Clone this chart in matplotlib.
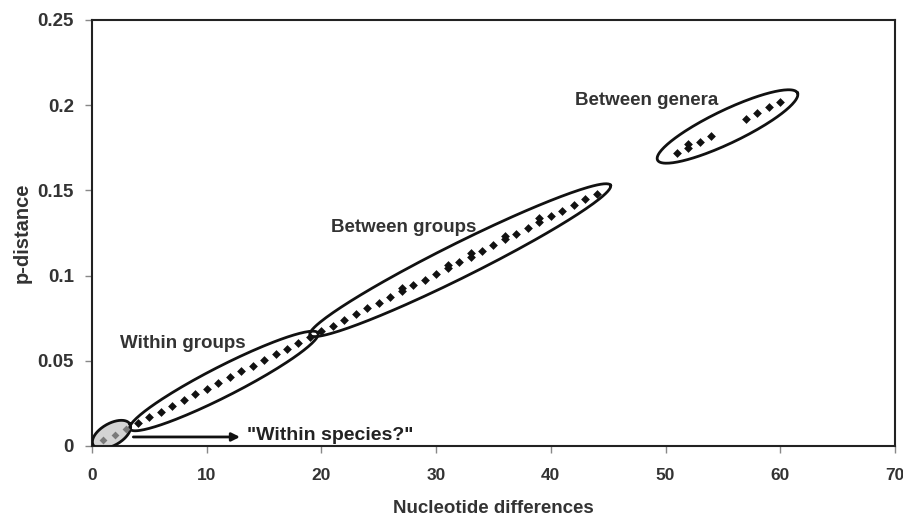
import numpy as np
import matplotlib
matplotlib.use("Agg")
import matplotlib.pyplot as plt

# Data: nucleotide differences vs p-distance
species_n = [1, 2, 3]
species_p = [0.0034, 0.0067, 0.0101]

groups_n = [4, 5, 6, 7, 8, 9, 10, 11, 12, 13, 14, 15, 16, 17, 18, 19]
groups_p = [0.0135, 0.0168, 0.0202, 0.0236, 0.0269, 0.0303, 0.0337, 0.0370,
            0.0404, 0.0438, 0.0471, 0.0505, 0.0539, 0.0572, 0.0606, 0.0640]

between_n = [20, 21, 22, 23, 24, 25, 26, 27, 27, 28, 29, 30, 31, 31, 32, 33, 33,
             34, 35, 36, 36, 37, 38, 39, 39, 40, 41, 42, 43, 44]
between_p = [0.0673, 0.0707, 0.0741, 0.0774, 0.0808, 0.0842, 0.0875, 0.0909, 0.0925,
             0.0943, 0.0976, 0.1010, 0.1044, 0.1062, 0.1077, 0.1111, 0.1130,
             0.1145, 0.1178, 0.1212, 0.1232, 0.1246, 0.1279, 0.1313, 0.1336,
             0.1347, 0.1380, 0.1414, 0.1448, 0.1481]

genera_n = [51, 52, 52, 53, 54, 57, 58, 59, 60]
genera_p = [0.1717, 0.1751, 0.1775, 0.1785, 0.1818, 0.1919, 0.1953, 0.1987, 0.2020]

# Ellipses: (x0, y0), (x1, y1) ends of major axis in data units, minor axis in px
ellipses = [
    ((0.1, 0.0006), (3.3, 0.0129), 22, "#d4d4d4"),
    ((3.3, 0.0100), (19.7, 0.0663), 30, "none"),
    ((19.0, 0.0651), (45.2, 0.1530), 34, "none"),
    ((49.3, 0.1678), (61.5, 0.2072), 33, "none"),
]

labels = ["Within groups", "Between groups", "Between genera"]
label_pos = [(2.4, 0.060), (20.8, 0.128), (42.1, 0.2025)]

xticks = [0, 10, 20, 30, 40, 50, 60, 70]
yticks = [0, 0.05, 0.1, 0.15, 0.2, 0.25]
ytick_labels = ["0", "0.05", "0.1", "0.15", "0.2", "0.25"]

bold = ["Liberation Sans", "DejaVu Sans"]

fig = plt.figure(figsize=(9.04, 5.18), dpi=100)
ax = fig.add_axes([0.1018, 0.139, 0.8882, 0.8224])
ax.set_xlim(0, 70)
ax.set_ylim(0, 0.25)

# ellipses drawn in pixel space so they are not skewed by the axis scaling
for (a, b, minor, fc) in ellipses:
    pa, pb = ax.transData.transform([a, b])
    c = (pa + pb) / 2
    d = pb - pa
    L = np.hypot(*d) / 2
    u = d / np.hypot(*d)
    v = np.array([-u[1], u[0]])
    t = np.linspace(0, 2 * np.pi, 200)
    pts = c + np.outer(L * np.cos(t), u) + np.outer(minor / 2 * np.sin(t), v)
    dpts = ax.transData.inverted().transform(pts)
    if fc != "none":
        ax.fill(dpts[:, 0], dpts[:, 1], color=fc, zorder=1)
    ax.plot(dpts[:, 0], dpts[:, 1], color="#111111", lw=2, zorder=3)

ax.scatter(species_n, species_p, marker="D", s=16, color="#7a7a7a", zorder=4, linewidths=0)
ax.scatter(groups_n + between_n + genera_n, groups_p + between_p + genera_p,
           marker="D", s=20, color="#111111", zorder=4, linewidths=0)

for txt, (x, y) in zip(labels, label_pos):
    ax.text(x, y, txt, fontsize=13.5, fontweight="bold", family=bold,
            color="#333333", va="center", ha="left")

ax.annotate("", xy=(12.9, 0.0053), xytext=(3.6, 0.0053),
            arrowprops=dict(arrowstyle="-|>", color="#111111", lw=2,
                            mutation_scale=12, shrinkA=0, shrinkB=0))
ax.text(13.5, 0.0059, '"Within species?"', fontsize=14, fontweight="bold",
        family=bold, color="#222222", va="center", ha="left")

ax.set_xticks(xticks)
ax.set_yticks(yticks)
ax.set_yticklabels(ytick_labels)
for lab in ax.get_yticklabels():
    lab.set_fontfamily(bold)
    lab.set_fontweight("bold")
    lab.set_fontsize(13.5)
    lab.set_color("#333333")
for lab in ax.get_xticklabels():
    lab.set_fontfamily(bold)
    lab.set_fontweight("bold")
    lab.set_fontsize(12.5)
    lab.set_color("#333333")
ax.tick_params(axis="both", direction="out", length=5, width=1, color="#888888")
ax.tick_params(axis="y", pad=8)
ax.tick_params(axis="x", pad=11)

for sp in ax.spines.values():
    sp.set_linewidth(1.5)
    sp.set_color("#222222")

ax.set_xlabel("Nucleotide differences", fontsize=13.5, fontweight="bold",
              family=bold, color="#333333", labelpad=12)
ax.set_ylabel("p-distance", fontsize=14.5, fontweight="bold", family=bold,
              color="#333333", labelpad=4)

fig.savefig("out.png", dpi=100)
